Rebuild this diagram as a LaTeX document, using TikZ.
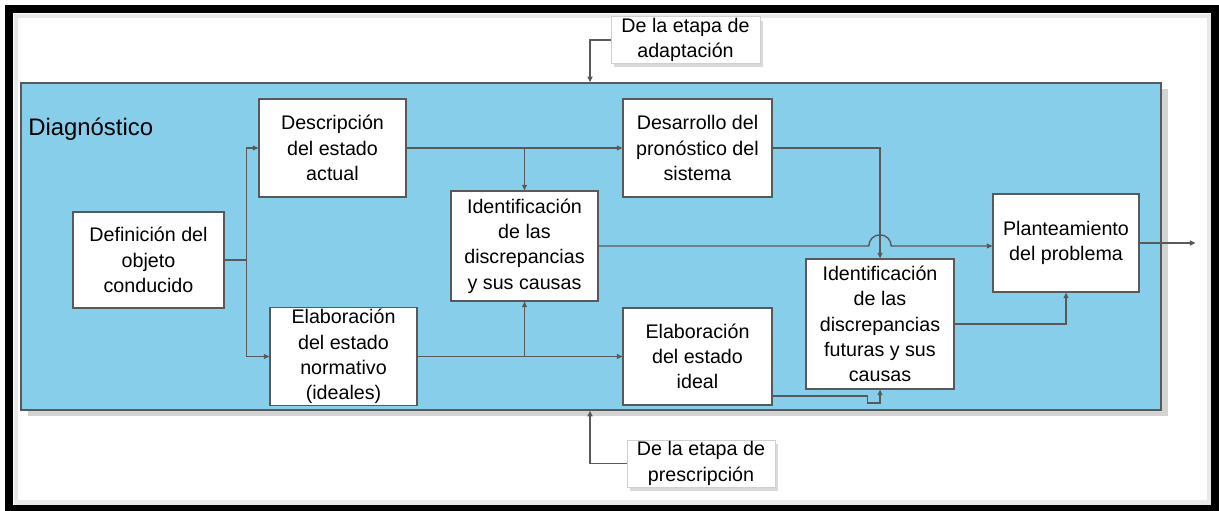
\documentclass[tikz,border=0pt]{standalone}
\usepackage{fontspec}
\setmainfont{Liberation Sans}
\usetikzlibrary{arrows.meta,positioning,calc,shadows}
\definecolor{PanelBlue}{HTML}{87CEEB}
\definecolor{LineGray}{HTML}{595959}
\definecolor{NoteGray}{HTML}{D0D0D0}

\begin{document}
\begin{tikzpicture}[
    font=\fontsize{14}{18}\selectfont,
    procbox/.style={draw=LineGray, fill=white, line width=0.8pt, align=center, inner sep=1pt},
    notebox/.style={draw=NoteGray, fill=white, line width=0.6pt, align=center, inner sep=1pt, drop shadow={opacity=0.3, shadow xshift=2pt, shadow yshift=-3pt}},
    flow/.style={draw=LineGray, line width=1pt, -{Triangle[length=4pt, width=3.5pt]}}
]
  \useasboundingbox (0,0) rectangle (30.475,12.75);

  % Marco exterior
  \draw[gray!18, line width=0.12cm] (0.4,0.18) rectangle (30.24,12.35);
  \draw[black, line width=0.2cm] (0.225,0.025) rectangle (30.375,12.525);

  % =========================================================================
  % PANEL DIAGNOSTICO
  % =========================================================================
  \node[draw=LineGray, fill=PanelBlue, line width=1pt, inner sep=0pt, minimum width=28.5cm, minimum height=8.175cm, drop shadow={opacity=0.35, shadow xshift=5pt, shadow yshift=-4pt}] (diag) at (14.775, 6.5875) {};
  \node[anchor=west, inner sep=0pt, font=\fontsize{17}{20}\selectfont] (titulo) at (0.7, 9.525) {Diagnóstico};

  % Cajas de proceso
  \node[procbox, minimum width=3.775cm, minimum height=2.4cm] (objeto) at (3.7125, 6.25) {Definición del\\objeto\\conducido};
  \node[procbox, minimum width=3.675cm, minimum height=2.45cm] (actual) at (8.3125, 9.05) {Descripción\\del estado\\actual};
  \node[procbox, minimum width=3.675cm, minimum height=2.425cm] (normativo) at (8.5875, 3.8375) {Elaboración\\del estado\\normativo\\(ideales)};
  \node[procbox, minimum width=3.675cm, minimum height=2.75cm] (discrep) at (13.1125, 6.6) {Identificación\\de las\\discrepancias\\y sus causas};
  \node[procbox, minimum width=3.725cm, minimum height=2.45cm] (pronostico) at (17.4375, 9.05) {Desarrollo del\\pronóstico del\\sistema};
  \node[procbox, minimum width=3.725cm, minimum height=2.425cm] (ideal) at (17.4375, 3.8375) {Elaboración\\del estado\\ideal};
  \node[procbox, minimum width=3.7cm, minimum height=3.25cm] (futuras) at (22.0, 4.65) {Identificación\\de las\\discrepancias\\futuras y sus\\causas};
  \node[procbox, minimum width=3.65cm, minimum height=2.45cm] (problema) at (26.65, 6.675) {Planteamiento\\del problema};

  % =========================================================================
  % ENTRADAS EXTERNAS
  % =========================================================================
  \node[notebox, minimum width=3.725cm, minimum height=1.15cm] (adapt) at (17.1375, 11.75) {De la etapa de\\adaptación};
  \node[notebox, minimum width=3.7cm, minimum height=1.175cm] (prescr) at (17.525, 1.1625) {De la etapa de\\prescripción};
  \coordinate (entA) at (14.75,0 |- diag.north);
  \coordinate (entP) at (14.75,0 |- diag.south);
  \coordinate[right=1.4cm of problema.east] (salida);

  % Conexiones
  \draw[flow] (adapt.west) -| (entA);
  \draw[flow] (prescr.west) -| (entP);
  \draw[flow] (objeto.east) -- ++(0.55,0) |- (actual.west);
  \draw[flow] (objeto.east) -- ++(0.55,0) |- (normativo.west);
  \draw[flow] (actual) -- (pronostico);
  \draw[flow] (actual.east -| discrep.north) -- (discrep.north);
  \draw[flow] (normativo) -- (ideal);
  \draw[flow] (normativo.east -| discrep.south) -- (discrep.south);
  \draw[flow] (discrep.east) -- ([xshift=-0.28cm]discrep.east -| futuras.north) arc[start angle=180, end angle=0, radius=0.28cm] -- (discrep.east -| problema.west);
  \draw[flow] (pronostico.east) -| (futuras.north);
  \draw[flow] ([yshift=-0.99cm]ideal.east) -- ++(2.375,0) -- ++(0,-0.175) -| (futuras.south);
  \draw[flow] (futuras.east) -| (problema.south);
  \draw[flow] (problema.east) -- (salida);

\end{tikzpicture}
\end{document}
